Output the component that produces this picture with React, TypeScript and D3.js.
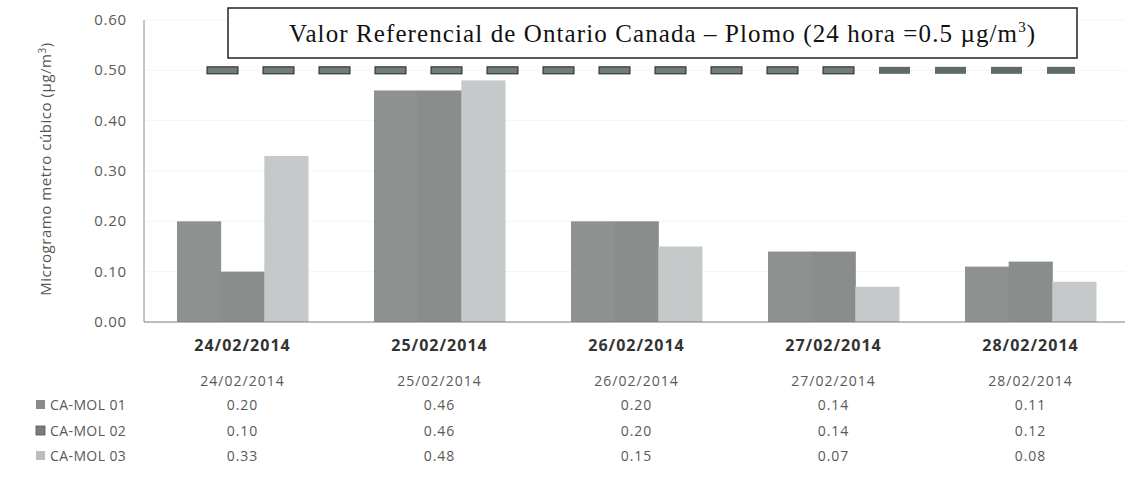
import React, { useEffect, useRef } from 'react';
import * as d3 from 'd3';

const categories = ['24/02/2014', '25/02/2014', '26/02/2014', '27/02/2014', '28/02/2014'];
const seriesNames = ['CA-MOL 01', 'CA-MOL 02', 'CA-MOL 03'];
const mol01 = [0.2, 0.46, 0.2, 0.14, 0.11];
const mol02 = [0.1, 0.46, 0.2, 0.14, 0.12];
const mol03 = [0.33, 0.48, 0.15, 0.07, 0.08];
const yTicks = [0, 0.1, 0.2, 0.3, 0.4, 0.5, 0.6];
const referenceValue = 0.5;
const yTitle = 'Microgramo metro cúbico (µg/m';
const refTitle = 'Valor Referencial de Ontario Canada – Plomo (24 hora =0.5 µg/m';

const barColors = ['#8d918f', '#898d8b', '#c6c9c9'];
const legendColors = ['#8a8a8a', '#7c7c7c', '#bdbdbd'];
const sansFont = '"Open Sans", sans-serif';

export default function App() {
  const ref = useRef<SVGSVGElement>(null);

  useEffect(() => {
    const svg = d3.select(ref.current);
    svg.selectAll('*').remove();

    const values = [mol01, mol02, mol03];
    const x0 = d3.scaleBand().domain(categories).range([144, 1129]).paddingInner(0.335).paddingOuter(0.1675);
    const x1 = d3.scaleBand().domain(seriesNames).range([0, x0.bandwidth()]);
    const y = d3.scaleLinear().domain([0, 0.6]).range([322, 20]);

    // faint grid
    svg.append('g')
      .selectAll('line')
      .data(yTicks.slice(1))
      .enter()
      .append('line')
      .attr('x1', 146).attr('x2', 1125)
      .attr('y1', d => y(d)).attr('y2', d => y(d))
      .attr('stroke', '#f4f4f4');

    // y tick labels
    svg.append('g')
      .selectAll('text')
      .data(yTicks)
      .enter()
      .append('text')
      .attr('x', 127)
      .attr('y', d => y(d) + 5)
      .attr('text-anchor', 'end')
      .attr('font-family', sansFont)
      .attr('font-size', 15)
      .attr('letter-spacing', 0.8)
      .attr('fill', '#595959')
      .text(d => d.toFixed(2));

    // y title
    const yt = svg.append('text')
      .attr('transform', 'translate(51,169) rotate(-90)')
      .attr('text-anchor', 'middle')
      .attr('font-family', sansFont)
      .attr('font-size', 15)
      .attr('letter-spacing', 0.55)
      .attr('fill', '#555');
    yt.append('tspan').text(yTitle);
    yt.append('tspan').attr('dy', -5).attr('font-size', 10).text('3');
    yt.append('tspan').attr('dy', 5).text(')');

    // bars
    seriesNames.forEach((s, si) => {
      svg.append('g')
        .selectAll('rect')
        .data(values[si])
        .enter()
        .append('rect')
        .attr('x', (d, i) => (x0(categories[i]) || 0) + (x1(s) || 0))
        .attr('y', d => y(d))
        .attr('width', x1.bandwidth() + 0.5)
        .attr('height', d => y(0) - y(d))
        .attr('fill', barColors[si]);
    });

    // axes lines
    svg.append('line')
      .attr('x1', 144).attr('x2', 144).attr('y1', y(0.6)).attr('y2', y(0))
      .attr('stroke', '#8a8a8a');
    svg.append('line')
      .attr('x1', 144).attr('x2', 1125).attr('y1', y(0)).attr('y2', y(0))
      .attr('stroke', '#7a7a7a');

    // category labels
    svg.append('g')
      .selectAll('text')
      .data(categories)
      .enter()
      .append('text')
      .attr('x', d => (x0(d) || 0) + x0.bandwidth() / 2)
      .attr('y', 351)
      .attr('text-anchor', 'middle')
      .attr('font-family', sansFont)
      .attr('font-weight', 'bold')
      .attr('font-size', 16)
      .attr('letter-spacing', 1)
      .attr('fill', '#333')
      .text(d => d);

    // data table
    const rowY = [381, 405, 431, 456];
    svg.append('g')
      .selectAll('text')
      .data(categories)
      .enter()
      .append('text')
      .attr('x', d => (x0(d) || 0) + x0.bandwidth() / 2)
      .attr('y', rowY[0] + 5)
      .attr('text-anchor', 'middle')
      .attr('font-family', sansFont)
      .attr('font-size', 14)
      .attr('letter-spacing', 1)
      .attr('fill', '#595959')
      .text(d => d);

    seriesNames.forEach((s, si) => {
      const ry = rowY[si + 1];
      svg.append('rect')
        .attr('x', 36).attr('y', ry - 5).attr('width', 9).attr('height', 9)
        .attr('fill', legendColors[si])
        .attr('stroke', si === 1 ? '#555' : 'none')
        .attr('stroke-width', 0.8);
      svg.append('text')
        .attr('x', 50).attr('y', ry + 5)
        .attr('font-family', sansFont)
        .attr('font-size', 14)
        .attr('letter-spacing', 0.4)
        .attr('fill', '#595959')
        .text(s);
      svg.append('g')
        .selectAll('text')
        .data(values[si])
        .enter()
        .append('text')
        .attr('x', (d, i) => (x0(categories[i]) || 0) + x0.bandwidth() / 2)
        .attr('y', ry + 5)
        .attr('text-anchor', 'middle')
        .attr('font-family', sansFont)
        .attr('font-size', 14)
        .attr('letter-spacing', 1)
        .attr('fill', '#595959')
        .text(d => d.toFixed(2));
    });

    // reference line 0.5 as dashes
    const dashStarts = d3.range(207, 1075, 56);
    svg.append('g')
      .selectAll('rect')
      .data(dashStarts)
      .enter()
      .append('rect')
      .attr('x', d => d)
      .attr('y', y(referenceValue) - 3.5)
      .attr('width', d => Math.min(31, 1075 - d))
      .attr('height', 7)
      .attr('fill', (d, i) => (i < 12 ? '#6f7c79' : '#5f6b69'))
      .attr('stroke', (d, i) => (i < 12 ? '#222' : 'none'))
      .attr('stroke-width', 1);

    // title box
    svg.append('rect')
      .attr('x', 228).attr('y', 8).attr('width', 849).attr('height', 50)
      .attr('fill', '#fff').attr('stroke', '#222').attr('stroke-width', 1.5);
    const tt = svg.append('text')
      .attr('x', 289).attr('y', 42)
      .attr('font-family', '"Liberation Serif", "Times New Roman", serif')
      .attr('font-size', 25)
      .attr('letter-spacing', 1.1)
      .attr('fill', '#111');
    tt.append('tspan').text(refTitle);
    tt.append('tspan').attr('dy', -10).attr('font-size', 15).text('3');
    tt.append('tspan').attr('dy', 10).text(')');
  }, []);

  return (
    <svg
      ref={ref}
      width={1125}
      height={485}
      style={{ position: 'absolute', left: 0, top: 0, background: '#fff' }}
    />
  );
}
